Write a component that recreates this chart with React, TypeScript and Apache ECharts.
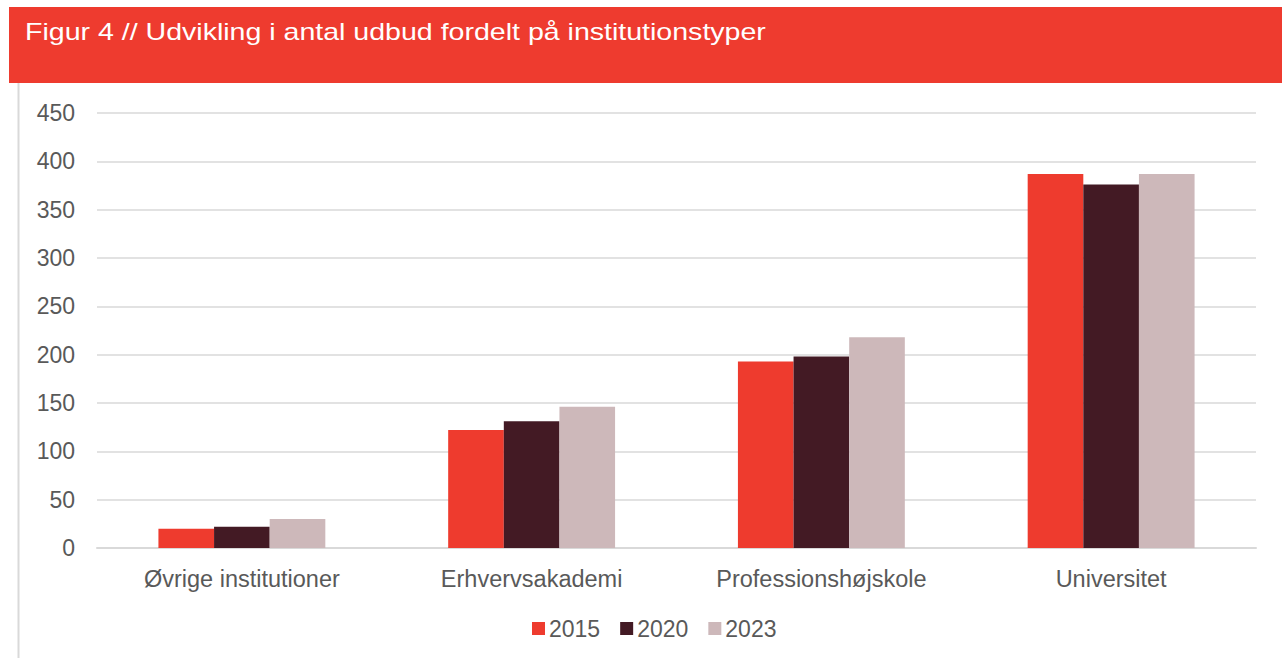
import React, { useEffect, useRef } from "react";
import * as echarts from "echarts";

const title = "Figur 4 // Udvikling i antal udbud fordelt på institutionstyper";
const categories = ["Øvrige institutioner", "Erhvervsakademi", "Professionshøjskole", "Universitet"];
const seriesNames = ["2015", "2020", "2023"];
const values2015 = [20, 122, 193, 387];
const values2020 = [22, 131, 198, 376];
const values2023 = [30, 146, 218, 387];
const colors = ["#EE3B2E", "#431A24", "#CDB8BA"];

export default function App() {
  const ref = useRef<HTMLDivElement>(null);
  useEffect(() => {
    if (!ref.current) return;
    const chart = echarts.init(ref.current, undefined, { renderer: "svg" });
    const font = "Arial";
    const data = [values2015, values2020, values2023];
    chart.setOption({
      animation: false,
      backgroundColor: "#ffffff",
      textStyle: { fontFamily: font },
      graphic: [
        { type: "rect", left: 9, top: 7, shape: { x: 0, y: 0, width: 1273, height: 76 }, style: { fill: "#EE3B2F" } },
        {
          type: "text",
          x: 25,
          y: 31.5,
          scaleX: 1.19,
          style: { text: title, fill: "#ffffff", fontSize: 24, fontFamily: font, textVerticalAlign: "middle" },
        },
        { type: "line", shape: { x1: 18.5, y1: 83, x2: 18.5, y2: 658 }, style: { stroke: "#d9d9d9", lineWidth: 2 } },
      ],
      grid: { left: 97, right: 26, top: 113, bottom: 110, containLabel: false },
      legend: {
        bottom: 13,
        left: 527,
        itemWidth: 13,
        itemHeight: 13,
        itemGap: 20,
        icon: "rect",
        textStyle: { fontSize: 23, color: "#595959", fontFamily: font, padding: [0, 0, 0, -1] },
        data: seriesNames,
      },
      xAxis: {
        type: "category",
        data: categories,
        axisLine: { lineStyle: { color: "#d9d9d9", width: 2 } },
        axisTick: { show: false },
        axisLabel: { fontSize: 23.5, color: "#595959", margin: 19, fontFamily: font },
      },
      yAxis: {
        type: "value",
        min: 0,
        max: 450,
        interval: 50,
        axisLine: { show: false },
        axisTick: { show: false },
        axisLabel: { fontSize: 23, color: "#595959", margin: 22, fontFamily: font },
        splitLine: { lineStyle: { color: "#d9d9d9", width: 1.5 } },
      },
      series: seriesNames.map((name, i) => ({
        name,
        type: "bar",
        data: data[i],
        barGap: "0%",
        barCategoryGap: "42.4%",
        itemStyle: { color: colors[i] },
      })),
    });
    return () => chart.dispose();
  }, []);
  return <div ref={ref} style={{ position: "fixed", left: 0, top: 0, width: 1282, height: 658 }} />;
}
